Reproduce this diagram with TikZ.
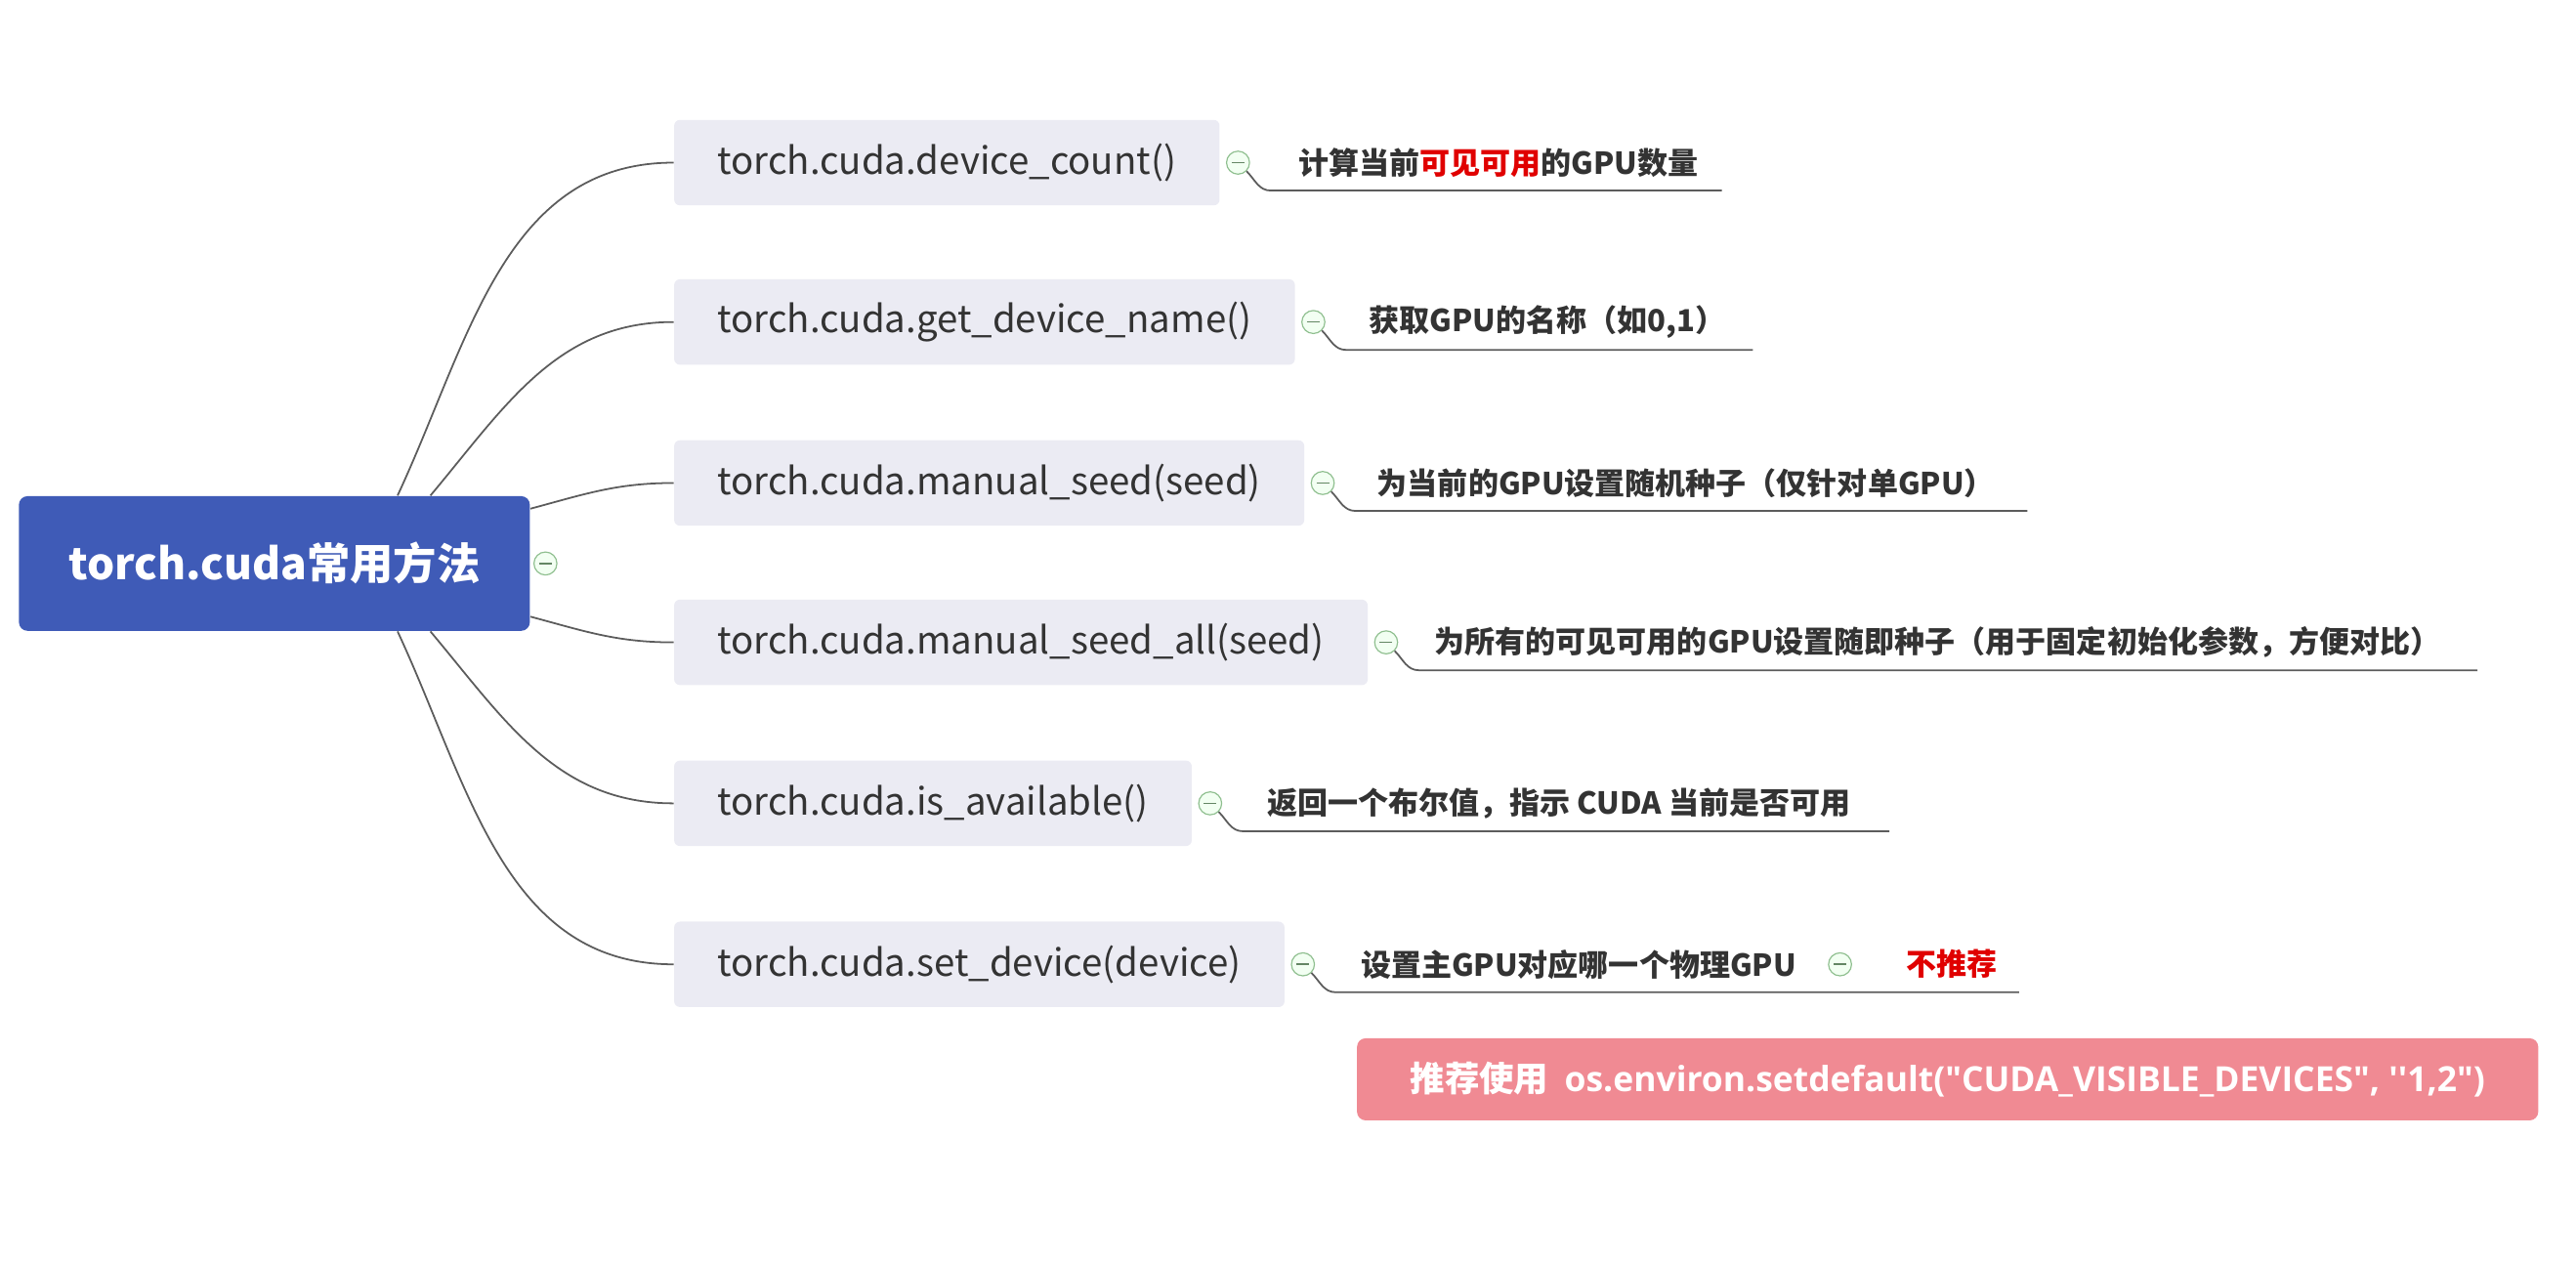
\documentclass[tikz,border=0pt]{standalone}
\usepackage{fontspec}
\setmainfont{Noto Sans CJK SC}
\newfontfamily\latinfont{Open Sans}
\usetikzlibrary{positioning}
\definecolor{rootblue}{HTML}{3F5BB7}
\definecolor{childgray}{HTML}{EBEBF3}
\definecolor{notepink}{HTML}{F08A93}
\definecolor{txtgray}{HTML}{333333}
\definecolor{foldgreen}{HTML}{8FBF8F}
\definecolor{alertred}{HTML}{E00000}
\newcommand{\dq}{\symbol{"22}}
\newcommand{\sq}{\symbol{"27}}
\tikzset{
  rootbox/.style={fill=rootblue, rounded corners=3pt, text=white, font=\fontsize{15}{18}\selectfont\bfseries, minimum width=311*0.02cm, minimum height=82*0.02cm},
  childbox/.style={fill=childgray, rounded corners=2pt, text=txtgray, font=\fontsize{13}{15}\selectfont, anchor=west, inner xsep=15pt, minimum height=52*0.02cm},
  leaflabel/.style={text=txtgray, font=\fontsize{10.5}{13}\selectfont\bfseries, anchor=west, inner sep=0pt},
  foldmark/.style={circle, draw=foldgreen, fill=green!5, minimum size=14*0.02cm, inner sep=0pt,
    path picture={\draw[foldgreen!70!black, line width=0.5pt] ([xshift=-2.2pt]path picture bounding box.center) -- ([xshift=2.2pt]path picture bounding box.center);}},
  branch/.style={draw=txtgray!80, line width=0.6pt},
}
\begin{document}
\begin{tikzpicture}[x=0.02cm, y=-0.02cm]
  \useasboundingbox (0,0) rectangle (1568,769);
  % root
  \node[rootbox] (root) at (167,343) {torch.cuda常用方法};
  \node[foldmark] (rf) at (332,343) {};
  % children
  \node[childbox] (c1) at (410,99) {torch.cuda.device\_count()};
  \node[childbox] (c2) at (410,196) {torch.cuda.get\_device\_name()};
  \node[childbox] (c3) at (410,294) {torch.cuda.manual\_seed(seed)};
  \node[childbox] (c4) at (410,391) {torch.cuda.manual\_seed\_all(seed)};
  \node[childbox] (c5) at (410,489) {torch.cuda.is\_available()};
  \node[childbox] (c6) at (410,587) {torch.cuda.set\_device(device)};
  \draw[branch] ([xshift=75*0.02cm]root.north) to[out=65,in=180] (c1.west);
  \draw[branch] ([xshift=95*0.02cm]root.north) to[out=50,in=180] (c2.west);
  \draw[branch] ([yshift=-8*0.02cm]root.north east) to[out=15,in=180] (c3.west);
  \draw[branch] ([yshift=9*0.02cm]root.south east) to[out=-15,in=180] (c4.west);
  \draw[branch] ([xshift=95*0.02cm]root.south) to[out=-50,in=180] (c5.west);
  \draw[branch] ([xshift=75*0.02cm]root.south) to[out=-65,in=180] (c6.west);
  % fold marks and leaves
  \foreach \c/\lx/\ex/\txt in {
      c1/790/1048/{计算当前\textcolor{alertred}{可见可用}的GPU数量},
      c2/833/1067/{获取GPU的名称（如0,1）},
      c3/838/1234/{为当前的GPU设置随机种子（仅针对单GPU）},
      c4/873/1508/{为所有的可见可用的GPU设置随即种子（用于固定初始化参数，方便对比）},
      c5/771/1150/{返回一个布尔值，指示 CUDA 当前是否可用},
      c6/828/1229/{设置主GPU对应哪一个物理GPU}} {
    \node[foldmark, right=2pt of \c] (\c f) {};
    \node[leaflabel] (\c l) at (\lx,0 |- \c) {\txt};
    \coordinate (\c e) at ([yshift=-17*0.02cm]\ex,0 |- \c);
    \draw[branch] (\c f.south east) to[out=-45,in=180] ([xshift=20*0.02cm,yshift=-17*0.02cm]\c f.center) -- (\c e);
  }
  \node[foldmark] (c6lf) at (1120,587) {};
  \node[leaflabel, text=alertred] (c6r) at (1160,587) {不推荐};
  % note
  \node[fill=notepink, rounded corners=3pt, text=white, font=\fontsize{12}{14}\selectfont\bfseries,
        minimum width=719*0.02cm, minimum height=50*0.02cm] (note) at (1185.5,657)
        {推荐使用\ \ {\latinfont os.environ.setdefault(\dq CUDA\_VISIBLE\_DEVICES\dq, \sq\sq 1,2\dq)}};
\end{tikzpicture}
\end{document}
